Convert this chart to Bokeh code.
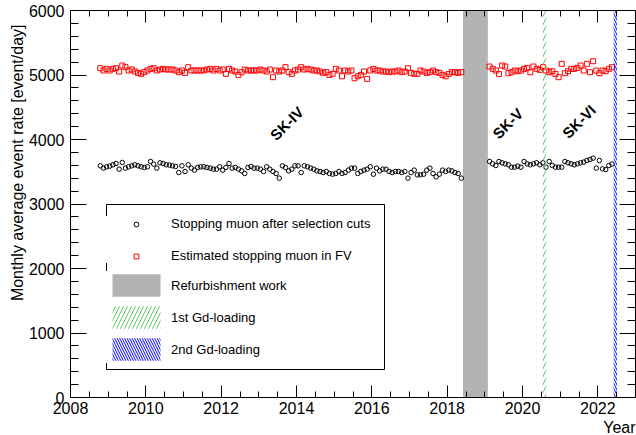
import math
from bokeh.plotting import figure
from bokeh.models import (ColumnDataSource, Legend, LegendItem, LinearAxis, Range1d,
                          SingleIntervalTicker, Title, CustomJSTickFormatter, BoxAnnotation)
from bokeh.core.properties import value
from bokeh.embed import file_html
from bokeh.resources import INLINE

# ---------------- data ----------------
# first month of each data-taking period (year, month)
period1_start = (2008, 10)   # SK-IV
period2_start = (2019, 2)    # SK-V / SK-VI

# Stopping muon after selection cuts [event/day], period 1 (Oct 2008 - May 2018)
stop_p1 = [3592, 3556, 3577, 3587, 3608, 3628, 3540, 3644, 3556, 3577,
           3592, 3608, 3592, 3577, 3566, 3577, 3659, 3618, 3556, 3639,
           3628, 3608, 3603, 3592, 3582, 3488, 3592, 3504, 3608, 3556,
           3525, 3566, 3577, 3577, 3566, 3556, 3540, 3540, 3577, 3525,
           3566, 3628, 3556, 3566, 3540, 3514, 3473, 3566, 3582, 3556,
           3556, 3540, 3504, 3577, 3540, 3504, 3473, 3401,
           3592, 3566, 3514, 3540, 3592, 3592, 3488, 3592, 3577, 3556,
           3540, 3514, 3504, 3488, 3504, 3473, 3462, 3473, 3504, 3473,
           3488, 3525, 3556, 3556, 3473, 3504, 3525, 3540, 3577, 3462,
           3556, 3514, 3540, 3540, 3504, 3488, 3504, 3504, 3488, 3504,
           3401, 3488, 3525, 3452, 3452, 3462, 3525, 3556, 3473, 3421,
           3462, 3525, 3504, 3525, 3514, 3488, 3473, 3401]
# period 2 (Feb 2019 - May 2022)
stop_p2 = [3659, 3623, 3597, 3659, 3639, 3623, 3608, 3571, 3571, 3587,
           3571, 3659, 3623, 3608, 3623, 3639, 3608, 3639, 3571, 3659,
           3597, 3571, 3571, 3571, 3659, 3639, 3623, 3608, 3623, 3639,
           3649, 3675, 3690, 3711, 3556, 3675, 3545, 3535, 3597, 3620]

# Estimated stopping muon in FV [event/day]
fv_p1 = [5105, 5070, 5095, 5070, 5095, 5105, 5054, 5147, 5121, 5070,
         5085, 5054, 5033, 5018, 5044, 5070, 5095, 5105, 5070, 5085,
         5095, 5085, 5085, 5085, 5070, 5044, 5070, 5033, 5121, 5070,
         5070, 5070, 5070, 5070, 5085, 5095, 5070, 5095, 5070, 5085,
         5018, 5095, 5070, 5054, 5002, 5044, 5085, 5070, 5070, 5070,
         5070, 5085, 5070, 5054, 5085, 4966, 5070, 5054,
         5070, 5121, 5044, 5018, 5070, 5085, 5121, 5085, 5095, 5085,
         5070, 5070, 5054, 5033, 5044, 5002, 5018, 5095, 5070, 4980,
         5070, 5054, 5070, 4950, 4980, 5002, 5054, 4940, 5070, 5095,
         5070, 5070, 5054, 5054, 5044, 5054, 5054, 5070, 5044, 5054,
         5105, 5033, 5018, 5018, 5070, 5054, 5033, 5044, 5070, 5044,
         5033, 5002, 4980, 5018, 5044, 5044, 5033, 5044]
fv_p2 = [5131, 5095, 5069, 5017, 5147, 5131, 5028, 5043, 5069, 5059,
         5069, 5095, 5111, 5043, 5131, 5095, 5080, 5121, 5069, 5043,
         5059, 5017, 4966, 5173, 5028, 5059, 5095, 5095, 5111, 5147,
         5069, 5173, 5043, 5214, 5069, 5028, 5069, 5059, 5095, 5121]

# periods shown as bands [start, end] in decimal years
refurbishment = [2018.42, 2019.08]
gd_loading_1 = [2020.54, 2020.63]
gd_loading_2 = [2022.42, 2022.51]

phase_labels = ["SK-IV", "SK-V", "SK-VI"]

legend_labels = ["Stopping muon after selection cuts",
                 "Estimated stopping muon in FV",
                 "Refurbishment work",
                 "1st Gd-loading",
                 "2nd Gd-loading"]


def month_axis(start, n):
    y0, m0 = start
    out = []
    for i in range(n):
        mm = m0 - 1 + i
        out.append(y0 + mm // 12 + ((mm % 12) + 0.5) / 12.0)
    return out


t1 = month_axis(period1_start, len(stop_p1))
t2 = month_axis(period2_start, len(stop_p2))

src = ColumnDataSource(dict(t=t1 + t2, stop=stop_p1 + stop_p2, fv=fv_p1 + fv_p2))

FONT = "Liberation Sans"

p = figure(width=636, height=435, x_range=Range1d(2008, 2023), y_range=Range1d(0, 6000),
           output_backend="svg", toolbar_location=None,
           min_border_left=70, min_border_right=1, min_border_top=10, min_border_bottom=0)
p.background_fill_color = "white"
p.border_fill_color = "white"
p.outline_line_color = "black"
p.outline_line_width = 1
p.xgrid.visible = False
p.ygrid.visible = False

xt = SingleIntervalTicker(interval=2, num_minor_ticks=4)
yt = SingleIntervalTicker(interval=1000, num_minor_ticks=5)


def style_axis(ax, ticker, major, minor, labels=True):
    ax.ticker = ticker
    ax.axis_line_color = "black"
    ax.axis_line_width = 1
    ax.major_tick_line_color = "black"
    ax.minor_tick_line_color = "black"
    ax.major_tick_in = major
    ax.major_tick_out = 0
    ax.minor_tick_in = minor
    ax.minor_tick_out = 0
    ax.major_label_text_font = FONT
    ax.major_label_text_color = "black"
    if labels:
        ax.major_label_text_font_size = "16px"
        ax.major_label_standoff = 6
    else:
        ax.formatter = CustomJSTickFormatter(code="return ''")
        ax.major_label_text_font_size = "1px"
        ax.major_label_standoff = 0


style_axis(p.xaxis[0], xt, 12, 6)
style_axis(p.yaxis[0], yt, 16, 8)
p.xaxis[0].major_label_standoff = 4

top = LinearAxis()
style_axis(top, SingleIntervalTicker(interval=2, num_minor_ticks=4), 12, 6, labels=False)
p.add_layout(top, "above")
right = LinearAxis()
style_axis(right, SingleIntervalTicker(interval=1000, num_minor_ticks=5), 16, 8, labels=False)
p.add_layout(right, "right")

# bands
r_ref = p.quad(left=[refurbishment[0]], right=[refurbishment[1]], bottom=[0], top=[6000],
               fill_color="#b3b3b3", line_color=None)

r_stop = p.scatter("t", "stop", source=src, marker="circle", size=4.5,
                   fill_color=None, line_color="black", line_width=1)
r_fv = p.scatter("t", "fv", source=src, marker="square", size=5,
                 fill_color=None, line_color="#ff0000", line_width=1)

r_gd1 = p.quad(left=[gd_loading_1[0]], right=[gd_loading_1[1]], bottom=[0], top=[6000],
               fill_alpha=0, line_color=None, hatch_pattern="/", hatch_color="#5cc85c",
               hatch_scale=8, hatch_weight=1)
r_gd2 = p.quad(left=[gd_loading_2[0]], right=[gd_loading_2[1]], bottom=[0], top=[6000],
               fill_alpha=0, line_color=None, hatch_pattern="\\", hatch_color="#0000ff",
               hatch_scale=5, hatch_weight=1)

# phase labels
p.text(x=[2013.74, 2019.61, 2021.5], y=[4250, 4250, 4280], text=phase_labels,
       angle=math.pi / 4, text_align="center", text_baseline="middle",
       text_font=value(FONT), text_font_style="bold", text_font_size="15px",
       text_color="black")

# legend: boxes part (bottom) and markers part (top, small glyph area -> small markers)
common = dict(padding=5, glyph_width=60, label_standoff=5, label_width=203, margin=0,
              label_text_font=FONT, label_text_font_size="13px", label_text_color="black",
              border_line_color=None, background_fill_color="white", background_fill_alpha=1)
leg_boxes = Legend(items=[LegendItem(label=legend_labels[2], renderers=[r_ref]),
                          LegendItem(label=legend_labels[3], renderers=[r_gd1]),
                          LegendItem(label=legend_labels[4], renderers=[r_gd2])],
                   location=(36, 34), spacing=4, glyph_height=28, label_height=28, **common)
leg_marks = Legend(items=[LegendItem(label=legend_labels[0], renderers=[r_stop]),
                          LegendItem(label=legend_labels[1], renderers=[r_fv])],
                   location=(36, 134), spacing=17, glyph_height=12, label_height=12, **common)
p.add_layout(leg_boxes)
p.add_layout(leg_marks)
p.add_layout(BoxAnnotation(left=36, right=314, bottom=28, top=193,
                           left_units="screen", right_units="screen",
                           bottom_units="screen", top_units="screen",
                           fill_color=None, fill_alpha=0, line_color="black",
                           line_alpha=1, line_width=1))

p.add_layout(Title(text="Year", align="right", text_font=FONT, text_font_size="16px",
                   text_font_style="normal", text_color="black", standoff=0), "below")
p.add_layout(Title(text="Monthly average event rate [event/day]", align="right",
                   text_font=FONT, text_font_size="16px", text_font_style="normal",
                   text_color="black", standoff=0, offset=14), "left")

open("out.html", "w").write(file_html(p, INLINE))
